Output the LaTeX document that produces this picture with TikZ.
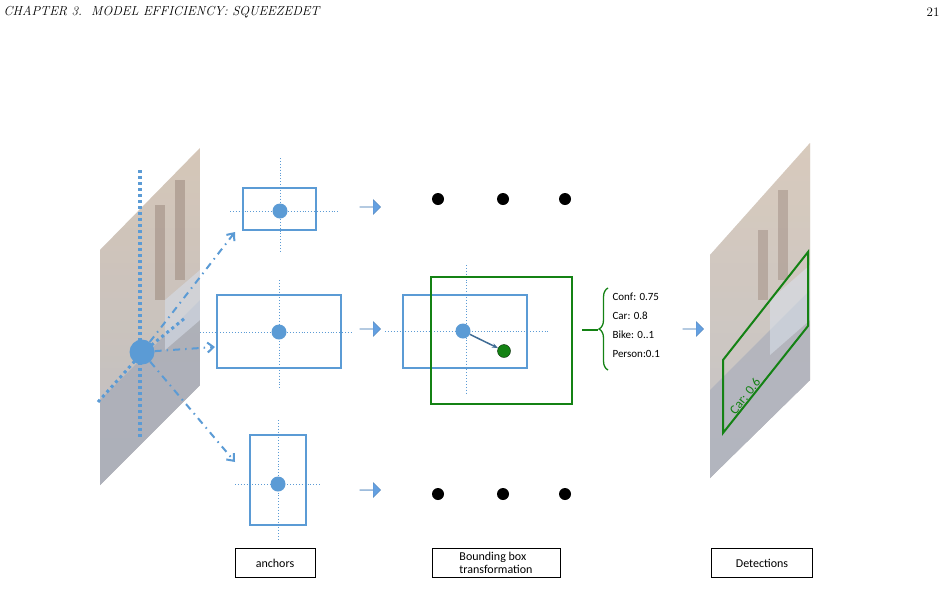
\documentclass[tikz,border=0pt]{standalone}
\usepackage{fontspec}
\newfontfamily\calfont{Carlito}
\usetikzlibrary{shapes.arrows,decorations.pathreplacing,arrows.meta}
\definecolor{bl}{RGB}{91,155,213}
\definecolor{gr}{RGB}{20,130,20}
\definecolor{arr}{RGB}{100,160,225}
\definecolor{wall}{RGB}{200,180,160}
\definecolor{road}{RGB}{170,170,175}
\definecolor{win}{RGB}{130,105,90}
\definecolor{car}{RGB}{140,145,160}
\definecolor{glass}{RGB}{200,210,225}
\begin{document}
\begin{tikzpicture}[x=1pt,y=-1pt,
 anchorbox/.style={draw=bl,line width=1.8pt},
 cross/.style={draw=bl,dotted,line width=0.9pt},
 ctr/.style={circle,fill=bl,inner sep=0,minimum size=15pt},
 bdot/.style={circle,fill=black,inner sep=0,minimum size=12pt},
 barrow/.style={single arrow,fill=arr,draw=arr!80!black,line width=0.2pt,minimum width=15pt,single arrow head extend=3pt,minimum height=21pt,inner sep=0},
 dd/.style={draw=bl,line width=2pt,dash pattern=on 7pt off 5pt on 1.5pt off 5pt,-{Straight Barb[length=6pt,width=10pt]}},
 lbl/.style={draw,line width=0.5pt,font=\calfont\fontsize{12}{13}\selectfont,align=center,inner sep=4pt}]
\useasboundingbox (0,0) rectangle (943,598);
\fill[white] (0,0) rectangle (943,598);
\node[anchor=west,font=\itshape\fontsize{13}{14}\selectfont] (hdr) at (0,12) {CHAPTER 3.\ \ MODEL EFFICIENCY: SQUEEZEDET};
\node[anchor=east,font=\fontsize{13}{14}\selectfont] (pg) at (943,12) {21};
% left image
\begin{scope}
\clip (100,250) -- (200,148) -- (200,385) -- (100,485) -- cycle;
\shade[top color=wall,bottom color=road] (100,140) rectangle (200,490);
\fill[win,opacity=.6] (155,205) rectangle (165,300);
\fill[win,opacity=.6] (175,180) rectangle (185,280);
\fill[car,opacity=.8] (100,400) -- (200,300) -- (200,390) -- (100,490) -- cycle;
\fill[glass,opacity=.6] (165,300) -- (200,270) -- (200,320) -- (165,350) -- cycle;
\fill[white,opacity=.25] (100,140) rectangle (200,490);
\end{scope}
\draw[bl,line width=3.5pt,dash pattern=on 3pt off 3pt] (140,170) -- (140,437);
\draw[bl,line width=3pt,dash pattern=on 3pt off 3.5pt] (98,402) -- (143,352) -- (185,318);
\node[ctr,minimum size=25pt] (src) at (142,352) {};
% anchors
\node[ctr] (c1) at (280,211) {};
\node[ctr] (c2) at (279,332) {};
\node[ctr] (c3) at (278,484) {};
\draw[cross] (230,211) -- (338,211); \draw[cross] (280,158) -- (280,253);
\draw[cross] (200,332) -- (352,332); \draw[cross] (279,280) -- (279,388);
\draw[cross] (235,484) -- (320,484); \draw[cross] (278,420) -- (278,540);
\draw[anchorbox] (243,188) rectangle (316,230);
\draw[anchorbox] (217,295) rectangle (341,368);
\draw[anchorbox] (250,435) rectangle (306,525);
\draw[dd] (src) -- (235,232);
\draw[dd] (src) -- (215,347);
\draw[dd] (src) -- (235,462);
% block arrows
\node[barrow] (a1) at (370,207) {};
\node[barrow] (a2) at (370,329) {};
\node[barrow] (a3) at (370,490) {};
\node[barrow] (a4) at (693,329) {};
% dots
\foreach \x/\n in {438/a,503/b,565/c}{
 \node[bdot] (t\n) at (\x,199) {};
 \node[bdot] (b\n) at (\x,494) {};}
% transformation
\draw[cross] (385,331) -- (550,331); \draw[cross] (466,265) -- (466,395);
\draw[anchorbox] (403,295) rectangle (527,368);
\draw[gr,line width=1.8pt] (431,277) rectangle (572,404);
\node[ctr] (m) at (463,331) {};
\node[circle,fill=gr,draw=black!70!gr,inner sep=0,minimum size=13pt] (g) at (504,351) {};
\draw[draw=bl!70!black,line width=1.5pt,-{Stealth[length=6pt]}] (m) -- (g);
% brace
\draw[gr,line width=1.3pt,decorate,decoration={brace,amplitude=9pt}] (608,370) -- (608,288);
\draw[gr,line width=1.3pt] (582,330) -- (598,330);
\node[anchor=west,font=\calfont\fontsize{11}{19}\selectfont,align=left] (sc) at (609,325) {Conf: 0.75\\Car: 0.8\\Bike: 0..1\\Person:0.1};
% right image
\begin{scope}
\clip (710,255) -- (810,143) -- (810,380) -- (710,478) -- cycle;
\shade[top color=wall,bottom color=road] (700,140) rectangle (815,490);
\fill[win,opacity=.6] (758,230) rectangle (768,300);
\fill[win,opacity=.6] (778,190) rectangle (788,280);
\fill[car,opacity=.8] (710,390) -- (810,290) -- (810,385) -- (710,485) -- cycle;
\fill[glass,opacity=.6] (770,300) -- (810,265) -- (810,320) -- (770,355) -- cycle;
\fill[white,opacity=.3] (700,140) rectangle (815,490);
\end{scope}
\draw[gr,line width=2pt] (723,360) -- (808,252) -- (808,326) -- (723,433) -- cycle;
\node[gr,rotate=52,font=\calfont\fontsize{13}{14}\selectfont] (cl) at (745,396) {Car: 0.6};
% labels
\node[lbl,minimum width=80pt,minimum height=29pt] (l1) at (275,563) {anchors};
\node[lbl,align=left,minimum width=128pt] (l2) at (496,563) {Bounding box\\transformation};
\node[lbl,minimum width=101pt,minimum height=29pt] (l3) at (762,563) {Detections};
\end{tikzpicture}
\end{document}
